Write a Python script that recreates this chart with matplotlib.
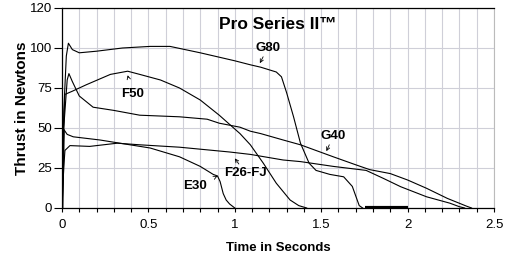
import matplotlib
matplotlib.use("Agg")
import matplotlib.pyplot as plt
from matplotlib.ticker import MultipleLocator

plt.rcParams['font.family'] = ['Liberation Sans Narrow', 'Liberation Sans', 'DejaVu Sans']

# thrust curves (time s, thrust N)
g80_t = [0, 0.01, 0.025, 0.037, 0.06, 0.1, 0.2, 0.35, 0.51, 0.625, 0.8, 1.0, 1.09, 1.15, 1.24, 1.27, 1.3, 1.34, 1.38, 1.43, 1.47, 1.55, 1.63, 1.68, 1.72, 1.74]
g80_f = [0, 60, 95, 103, 99, 97, 98, 100, 101, 101, 97, 92, 89.5, 88, 85, 82, 72, 57, 40.5, 28, 23.5, 21, 19.5, 13.5, 1.5, 0]
g80_tail_t = [1.754, 2.004]
g80_tail_f = [0, 0]

f50_t = [0, 0.01, 0.017, 0.06, 0.14, 0.28, 0.38, 0.45, 0.57, 0.68, 0.8, 0.91, 1.03, 1.09, 1.165, 1.24, 1.32, 1.37, 1.416]
f50_f = [0, 50, 71, 73, 77, 83.5, 85.5, 83.5, 80, 75, 67.5, 58, 46.5, 39.5, 28, 15.5, 5, 1.5, 0]

g40_t = [0, 0.01, 0.03, 0.04, 0.06, 0.1, 0.18, 0.3, 0.45, 0.68, 0.84, 0.91, 1.03, 1.09, 1.15, 1.28, 1.38, 1.57, 1.7, 1.78, 1.9, 2.0, 2.11, 2.23, 2.34, 2.37]
g40_f = [0, 50, 80, 84, 79, 70, 63, 61, 58, 57, 55.5, 53, 50.5, 48, 46.5, 42.5, 39.5, 32, 27, 24, 21.5, 17.5, 12.3, 6, 1.2, 0]

e30_t = [0, 0.004, 0.008, 0.03, 0.065, 0.22, 0.335, 0.51, 0.68, 0.8, 0.875, 0.9, 0.915, 0.933, 0.95, 0.97, 1.0]
e30_f = [0, 40, 49.5, 46, 44.5, 42.5, 40.5, 37.5, 32, 26, 21, 20, 16.5, 9, 5, 2.5, 0]

f26_t = [0, 0.01, 0.017, 0.046, 0.16, 0.32, 0.45, 0.68, 0.97, 1.09, 1.28, 1.38, 1.57, 1.76, 1.86, 1.96, 2.11, 2.245, 2.3, 2.33]
f26_f = [0, 25, 36, 39, 38.5, 40.5, 39.5, 38, 35, 33.5, 30, 29, 26, 23.5, 18.5, 13.3, 7, 3, 0.8, 0]

# label text position, arrow tip
labels = ["G80", "F50", "G40", "F26-FJ", "E30"]
label_xy = [(1.19, 100), (0.41, 71), (1.57, 45), (1.06, 22), (0.77, 13.5)]
tip_xy = [(1.145, 90.5), (0.38, 83), (1.53, 35.5), (1.0, 31), (0.9, 20)]

yticks = [0, 25, 50, 75, 100, 125]
ytick_labels = ['0', '25', '50', '75', '100', '120']

fig = plt.figure(figsize=(5.08, 2.65), dpi=100)
ax = fig.add_axes([62 / 508, 1 - 208 / 265, 432 / 508, 200 / 265])

for t, f in [(g80_t, g80_f), (f50_t, f50_f), (g40_t, g40_f), (e30_t, e30_f), (f26_t, f26_f)]:
    ax.plot(t, f, color='black', lw=0.8)
ax.plot(g80_tail_t, g80_tail_f, color='black', lw=3, solid_capstyle='butt')
ax.plot([0, 0.008], [0, 48], color='black', lw=2)

for name, xy, tip in zip(labels, label_xy, tip_xy):
    ax.annotate(name, xy=tip, xytext=xy, ha='center', va='center',
                fontsize=9.5, fontweight='bold',
                arrowprops=dict(arrowstyle='->', lw=0.6, color='black',
                                shrinkA=6, shrinkB=0, mutation_scale=6))

ax.set_xlim(0, 2.5)
ax.set_ylim(0, 125)
ax.xaxis.set_major_locator(MultipleLocator(0.5))
ax.xaxis.set_minor_locator(MultipleLocator(0.1))
ax.xaxis.set_major_formatter(plt.FuncFormatter(lambda v, p: f"{v:g}"))
ax.set_yticks(yticks)
ax.set_yticklabels(ytick_labels)
ax.grid(True, which='both', color='#cfcfd8', lw=0.8)
ax.set_axisbelow(True)
ax.tick_params(labelsize=9.5, length=3, width=0.8, colors='black')
ax.tick_params(axis='x', pad=5)
ax.tick_params(axis='y', length=6, pad=1)
ax.tick_params(which='minor', length=3, width=0.8)
ax.spines['right'].set_color('#bbbbbb')
for s in ['left', 'bottom', 'top']:
    ax.spines[s].set_linewidth(0.9)

ax.set_xlabel('Time in Seconds', fontsize=9.5, fontweight='bold', labelpad=8)
ax.set_ylabel('Thrust in Newtons', fontsize=11, fontweight='bold', labelpad=1)
ax.text(1.25, 114.5, 'Pro Series II™', ha='center', va='center',
        fontsize=12.5, fontweight='bold')

fig.savefig('out.png', dpi=100)
